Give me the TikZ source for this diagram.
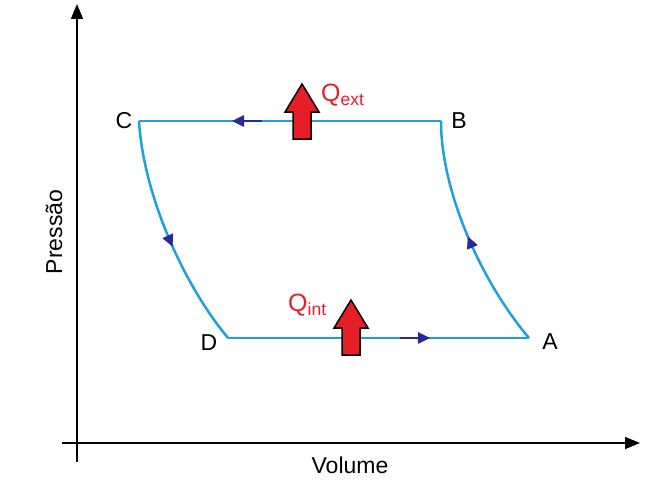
\documentclass[tikz,border=0pt]{standalone}
\usepackage{fontspec}
\setmainfont{Liberation Sans}
\usetikzlibrary{arrows.meta,decorations.markings}
\definecolor{cyccol}{RGB}{30,160,220}
\definecolor{dblue}{RGB}{40,40,150}
\definecolor{qred}{RGB}{230,30,40}
\begin{document}
\begin{tikzpicture}[x=1pt,y=-1pt,
  ax/.style={line width=1.5pt,-{Triangle[length=15pt,width=12pt]}},
  cycline/.style={cyccol,line width=2.5pt},
  dir/.style={dblue,line width=2.5pt,-{Triangle[length=12pt,width=11pt]}},
  mid/.style={postaction={decorate},decoration={markings,mark=at position #1 with {\arrow[dblue]{Triangle[length=12pt,width=11pt]}}}},
  lbl/.style={font=\fontsize{23}{23}\selectfont},
  heat/.style={fill=qred,draw=black,line width=1.5pt},
  ql/.style={text=qred,font=\fontsize{25}{25}\selectfont}]
\useasboundingbox (0,0) rectangle (656,487);
\coordinate (ytop) at (77,4);
\coordinate (ybot) at (77,462);
\coordinate (xl) at (62,443);
\coordinate (xr) at (640,443);
\draw[ax] (ybot) -- (ytop);
\draw[ax] (xl) -- (xr);
\node[lbl,rotate=90] (py) at (54,232) {Pressão};
\node[lbl] (vx) at (350,465) {Volume};
\coordinate (C) at (139,121);
\coordinate (B) at (441,121);
\coordinate (A) at (529,338);
\coordinate (D) at (228,338);
\draw[cycline] (C) -- (B);
\draw[cycline] (D) -- (A);
\draw[cycline,mid=0.5] (A) .. controls (480,280) and (441,190) .. (B);
\draw[cycline,mid=0.55] (C) .. controls (143,190) and (180,280) .. (D);
\coordinate (t1) at (262,121); \coordinate (t2) at (232,121);
\draw[dir] (t1) -- (t2);
\coordinate (b1) at (400,338); \coordinate (b2) at (430,338);
\draw[dir] (b1) -- (b2);
\node[lbl] (nC) at (124,121) {C};
\node[lbl] (nB) at (459,121) {B};
\node[lbl] (nA) at (550,342) {A};
\node[lbl] (nD) at (209,343) {D};
\draw[heat] (293,139) -- (293,112) -- (285,112) -- (302,84) -- (319,112) -- (311,112) -- (311,139) -- cycle;
\draw[heat] (342,355) -- (342,328) -- (334,328) -- (351,300) -- (368,328) -- (360,328) -- (360,355) -- cycle;
\node[ql,anchor=west,inner sep=0pt] (qe) at (321,95) {Q\textsubscript{ext}};
\node[ql,anchor=west,inner sep=0pt] (qi) at (288,305) {Q\textsubscript{int}};
\end{tikzpicture}
\end{document}
